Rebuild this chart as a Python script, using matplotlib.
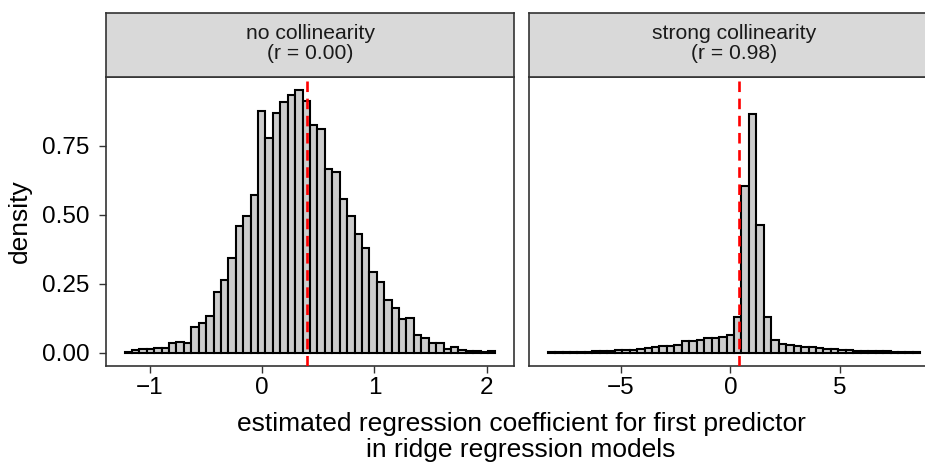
import numpy as np
import matplotlib
matplotlib.use("Agg")
import matplotlib.pyplot as plt

plt.rcParams['font.family'] = ['Liberation Sans', 'DejaVu Sans']

# ---- data ----
panel_titles = ["no collinearity\n(r = 0.00)", "strong collinearity\n(r = 0.98)"]
true_beta = 0.4

# left panel: 50 bins
left_range = (-1.2225, 2.0756)
left_density = [0.003, 0.009, 0.014, 0.014, 0.017, 0.018, 0.034, 0.038, 0.037, 0.094,
                0.108, 0.132, 0.221, 0.264, 0.344, 0.458, 0.497, 0.573, 0.877, 0.778,
                0.868, 0.910, 0.934, 0.953, 0.913, 0.826, 0.811, 0.666, 0.655, 0.559,
                0.497, 0.432, 0.380, 0.294, 0.258, 0.193, 0.163, 0.123, 0.128, 0.066,
                0.054, 0.034, 0.036, 0.014, 0.022, 0.011, 0.007, 0.008, 0.003, 0.005]
left_ticks = [-1, 0, 1, 2]

# right panel: 50 bins
right_range = (-8.36, 8.69)
right_density = [0.002, 0.002, 0.002, 0.003, 0.003, 0.004, 0.005, 0.006, 0.007, 0.009,
                 0.011, 0.012, 0.015, 0.018, 0.022, 0.024, 0.026, 0.030, 0.042, 0.042,
                 0.047, 0.054, 0.055, 0.056, 0.066, 0.129, 0.603, 0.866, 0.462, 0.131,
                 0.045, 0.033, 0.027, 0.024, 0.023, 0.020, 0.017, 0.015, 0.013, 0.011,
                 0.009, 0.008, 0.007, 0.006, 0.006, 0.005, 0.004, 0.004, 0.003, 0.003]
right_ticks = [-5, 0, 5]

y_ticks = [0.00, 0.25, 0.50, 0.75]
y_labels = ["0.00", "0.25", "0.50", "0.75"]

# ---- figure ----
W, H = 925, 462
fig = plt.figure(figsize=(W / 100, H / 100), dpi=100)

def px_axes(x0, y0, x1, y1):
    # pixel box (from top-left) -> figure axes
    return fig.add_axes([x0 / W, 1 - y1 / H, (x1 - x0) / W, (y1 - y0) / H])

panels = [
    (106, 514, left_range, left_density, left_ticks, panel_titles[0]),
    (529, 939, right_range, right_density, right_ticks, panel_titles[1]),
]

ymax = max(max(left_density), max(right_density))
border_col = '#333333'

for i, (x0, x1, rng, dens, ticks, title) in enumerate(panels):
    ax = px_axes(x0, 76.7, x1, 366)
    edges = np.linspace(rng[0], rng[1], len(dens) + 1)
    ax.bar(edges[:-1], dens, width=np.diff(edges), align='edge',
           color='#CCCCCC', edgecolor='black', linewidth=1.5, zorder=2)
    ax.axvline(true_beta, color='#FF0000', linestyle=(0, (4, 2.5)), linewidth=1.9, zorder=3)

    span = rng[1] - rng[0]
    ax.set_xlim(rng[0] - 0.05 * span, rng[1] + 0.05 * span)
    ax.set_ylim(-0.05 * ymax, 1.05 * ymax)
    ax.set_xticks(ticks)
    ax.tick_params(axis='x', length=5, width=1.0, pad=3, labelsize=17.5, color=border_col)
    if i == 0:
        ax.set_yticks(y_ticks)
        ax.set_yticklabels(y_labels)
        ax.tick_params(axis='y', length=5, width=1.0, pad=7, labelsize=17.5, color=border_col)
    else:
        ax.set_yticks([])
    for s in ax.spines.values():
        s.set_color(border_col)
        s.set_linewidth(1.2)

    # facet strip
    st = px_axes(x0, 13.3, x1, 76.7)
    st.set_facecolor('#D9D9D9')
    st.set_xticks([])
    st.set_yticks([])
    for s in st.spines.values():
        s.set_color(border_col)
        s.set_linewidth(1.2)
    st.text(0.5, 0.52, title, transform=st.transAxes, ha='center', va='center',
            fontsize=15.2, color='#1A1A1A', linespacing=1.1)

fig.text(20 / W, 1 - 221 / H, "density", rotation=90, ha='center', va='center', fontsize=19)
fig.text(521 / W, 1 - 437 / H,
         "estimated regression coefficient for first predictor\nin ridge regression models",
         ha='center', va='center', fontsize=19, linespacing=1.08)

fig.savefig("out.png", dpi=100)
